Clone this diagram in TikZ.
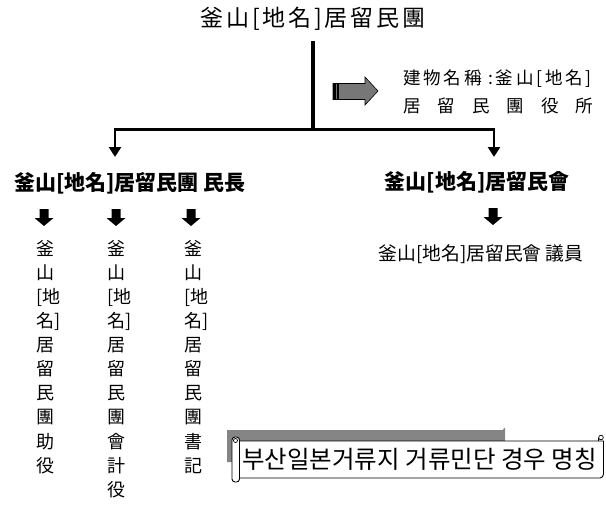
\documentclass[tikz,border=0pt]{standalone}
\usepackage{fontspec}
\setmainfont{Noto Sans CJK KR}
\usetikzlibrary{arrows.meta}
\definecolor{arrowgray}{HTML}{777777}
\definecolor{shadowgray}{HTML}{858585}
\tikzset{
  lbl/.style={inner sep=0pt},
  conn/.style={line width=2.8pt},
  arr/.style={conn,-{Triangle[width=12pt,length=10pt]}},
  bdown/.pic={\fill (-4.5,0) -- (4.5,0) -- (4.5,9) -- (9.5,9) -- (0,17) -- (-9.5,9) -- (-4.5,9) -- cycle;},
  vcol/.style={lbl,anchor=north west,align=left,font=\fontsize{18}{24.1}\selectfont},
}
\begin{document}
\begin{tikzpicture}[x=1pt,y=-1pt]
\useasboundingbox (0,0) rectangle (606,506);
% title
\node[lbl,font=\fontsize{23}{26}\selectfont\addfontfeature{LetterSpace=12}] (title) at (313,19) {釜山[地名]居留民團};
\coordinate (j) at (313,129.5);
\coordinate (lt) at (115,157);
\coordinate (rt) at (494,157);
\draw[line width=3.2pt,shorten <=10pt] (title) -- (j);
\draw[arr] (j) -| (lt);
\draw[arr] (j) -| (rt);
% gray block arrow
\filldraw[fill=arrowgray,draw=black,line width=0.6pt] (333,83.5) -- (365,83.5) -- (365,77) -- (378,91) -- (365,105) -- (365,99.5) -- (333,99.5) -- cycle;
\fill (333,83.5) rectangle (336,99.5);
\fill (337.3,83.5) rectangle (339,99.5);
% building note
\node[lbl,anchor=west,align=left,font=\fontsize{17.5}{28}\selectfont\addfontfeature{LetterSpace=16}] (note) at (403,92) {建物名稱 :釜山[地名]\\{\spaceskip=17pt 居 留 民 團 役 所}};
% level 2
\node[lbl,font=\fontsize{21}{24}\selectfont\bfseries] (chief) at (130,183) {釜山[地名]居留民團 民長};
\node[lbl,font=\fontsize{21}{24}\selectfont\bfseries] (council) at (477,182) {釜山[地名]居留民會};
% block arrows
\pic at (44,209) {bdown};
\pic at (116,209) {bdown};
\pic at (191,209) {bdown};
\pic at (493,208) {bdown};
% columns
\node[vcol] (c1) at (36.5,240) {釜\\山\\{[}地\\名]\\居\\留\\民\\團\\助\\役};
\node[vcol] (c2) at (107.5,240) {釜\\山\\{[}地\\名]\\居\\留\\民\\團\\會\\計\\役};
\node[vcol] (c3) at (184.5,240) {釜\\山\\{[}地\\名]\\居\\留\\民\\團\\書\\記};
\node[lbl,font=\fontsize{18.8}{22}\selectfont] (member) at (481,254) {釜山[地名]居留民會 議員};
% scroll
\fill[shadowgray] (227,430) -- (503,430) to[out=90,in=180] (505,428) -- (505,462) -- (227,462) -- cycle;
\filldraw[fill=white,line width=0.9pt] (237,441) -- (603.5,441) -- (603.5,474) to[out=-90,in=0] (600,478) -- (237,478) -- cycle;
\draw[line width=0.7pt,fill=white] (601,437.5) circle (2.3);
\draw[line width=0.7pt] (598.7,437.5) -- (598.7,441);
\draw[line width=0.9pt,fill=white,rounded corners=3pt] (232,437) rectangle (239.5,482);
\draw[line width=0.7pt,fill=white] (235.5,440.5) circle (2);
\node[lbl,font=\fontsize{24.5}{28}\selectfont] (banner) at (419.5,459.5) {부산일본거류지 거류민단 경우 명칭};
\end{tikzpicture}
\end{document}
